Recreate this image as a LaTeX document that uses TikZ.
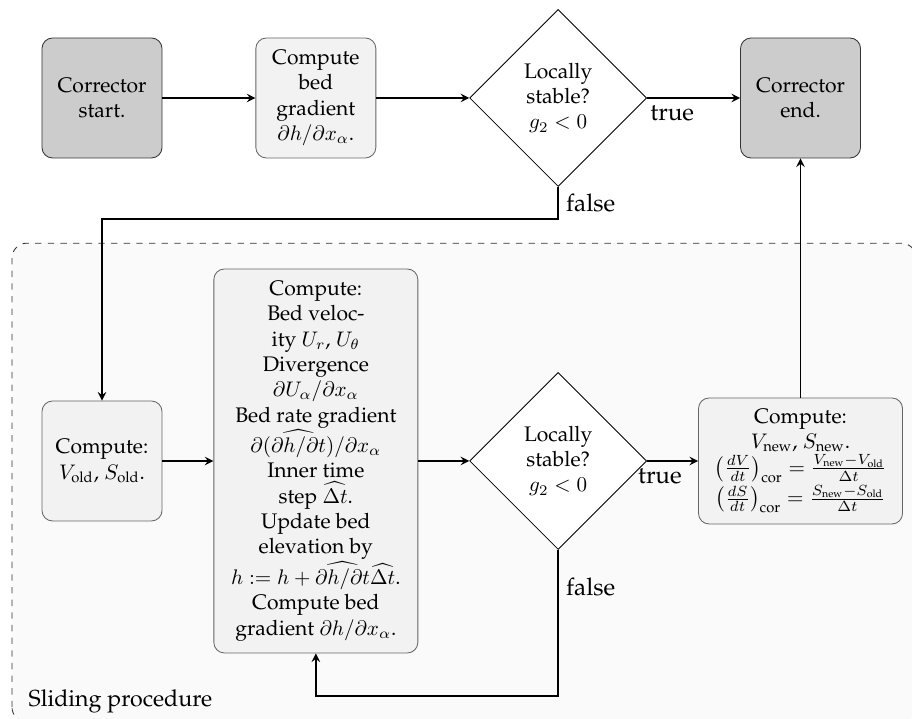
\documentclass[tikz,border=0pt]{standalone}
\usepackage[T1]{fontenc}
\usepackage{palatino}
\usepackage{amsmath}
\usetikzlibrary{positioning,shapes.geometric,arrows}

\tikzset{
    endbox/.style={rectangle, rounded corners=5pt, draw=black!80, fill=gray!40, minimum width=2cm, minimum height=2cm, align=center},
    stepbox/.style={rectangle, rounded corners=5pt, draw=black!60, fill=gray!10, minimum width=2cm, minimum height=2cm, align=center},
    widebox/.style={stepbox, minimum width=3.4cm, minimum height=0cm},
    check/.style={diamond, draw, fill=white, minimum width=2.95cm, minimum height=2.95cm, inner sep=0pt, align=center},
    flow/.style={thick, -stealth},
    answer/.style={font=\fontsize{11.5}{14}\selectfont},
}

\begin{document}
\begin{tikzpicture}
    \useasboundingbox (0,0) rectangle (15.2,11.983);

    % Sliding procedure region
    \draw[dashed, draw=black!80, fill=gray!4, rounded corners=7pt] (0.2,-0.05) rectangle (15.27,7.93);
    \node[anchor=base west, inner sep=0pt, font=\fontsize{11}{13}\selectfont] (slidelabel) at (0.47,0.2) {Sliding procedure};

    % Corrector step
    \node[endbox] (start) at (1.7,10.35) {Corrector\\start.};
    \node[stepbox, right=1.55cm of start] (grad) {Compute\\bed\\gradient\\$\partial h/\partial x_\alpha$.};
    \node[check, right=1.55cm of grad] (stab1) {Locally\\stable?\\$g_2<0$};
    \node[endbox, right=1.55cm of stab1] (end) {Corrector\\end.};

    % Sliding loop
    \node[stepbox] (old) at (1.7,4.3) {Compute:\\$V_\text{old}$, $S_\text{old}$.};
    \node[widebox, minimum height=6.4cm] (slide) at (grad |- old) {Compute:\\Bed veloc-\\ity $U_r$, $U_\theta$\\Divergence\\$\partial U_\alpha/\partial x_\alpha$\\Bed rate gradient\\$\partial(\widehat{\partial h/\partial t})/\partial x_\alpha$\\Inner time\\step $\widehat{\Delta t}$.\\Update bed\\elevation by\\$h:=h+\widehat{\partial h/\partial t}\widehat{\Delta t}$.\\Compute bed\\gradient $\partial h/\partial x_\alpha$.};
    \node[check] (stab2) at (stab1 |- old) {Locally\\stable?\\$g_2<0$};
    \node[widebox, minimum height=2.1cm] (new) at (end |- old) {Compute:\\$V_\text{new}$, $S_\text{new}$.\\$\left(\frac{dV}{dt}\right)_\text{cor}=\frac{V_\text{new}-V_\text{old}}{\Delta t}$\\$\left(\frac{dS}{dt}\right)_\text{cor}=\frac{S_\text{new}-S_\text{old}}{\Delta t}$};

    \draw[flow] (start) -- (grad);
    \draw[flow] (grad) -- (stab1);
    \draw[flow] (stab1) -- node[answer, pos=0.27, below] {true} (end);
    \draw[flow] (stab1.south) -- ++(0,-0.53) node[answer, midway, right] {false} -| (old.north);

    \draw[flow] (old) -- (slide);
    \draw[flow] (slide) -- (stab2);
    \draw[flow] (stab2) -- node[answer, pos=0.25, below] {true} (new);
    \draw[flow] (stab2.south) -- ++(0,-2.44) node[answer, pos=0.25, right] {false} -| (slide.south);
    \draw[flow] (new) -- (end);
\end{tikzpicture}
\end{document}
